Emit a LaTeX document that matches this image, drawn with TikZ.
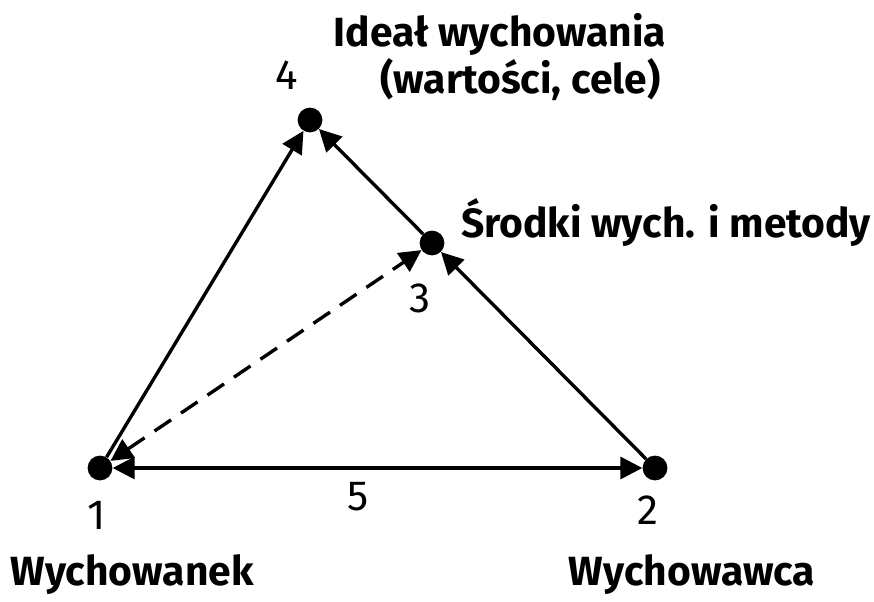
\documentclass[tikz,border=0pt]{standalone}
\usepackage{fontspec}
\setmainfont{Fira Sans}
\usetikzlibrary{arrows.meta}
\tikzset{
  punkt/.style={circle,fill,inner sep=0pt,minimum size=0.62cm},
  pfeil/.style={line width=2.4pt,-{Triangle[length=0.55cm,width=0.55cm]}},
  ziffer/.style={font=\fontsize{30}{34}\selectfont},
  etykieta/.style={font=\fontsize{29}{34}\selectfont\bfseries,align=center}
}
\begin{document}
\begin{tikzpicture}
  \useasboundingbox (0,0) rectangle (21.85,15.025);
  % Vier Punkte des Dreiecks
  \node[punkt] (P1) at (2.5,3.325)   {};
  \node[punkt] (P2) at (16.375,3.325) {};
  \node[punkt] (P3) at (10.8,8.95)   {};
  \node[punkt] (P4) at (7.75,12.025) {};

  % Nummern
  \node[ziffer] (n1) at (2.425,2.15)  {1};
  \node[ziffer] (n2) at (16.2,2.275)  {2};
  \node[ziffer] (n3) at (10.5,7.575)  {3};
  \node[ziffer] (n4) at (7.175,13.15) {4};
  \node[ziffer] (n5) at (8.95,2.6)    {5};

  % Beschriftungen
  \node[etykieta] (wychowanek) at (3.3,0.65)  {Wychowanek};
  \node[etykieta] (wychowawca) at (17.3,0.65) {Wychowawca};
  \node[etykieta] (ideal) at (12.5,13.6)
    {Ideał wychowania\\ \quad(wartości, cele)};
  \node[etykieta] (srodki) at (16.65,9.45) {Środki wych. i metody};

  % Pfeile
  \draw[pfeil] (P1) -- (P4);
  \draw[pfeil] (P3) -- (P4);
  \draw[pfeil] (P2) -- (P3);
  \draw[pfeil,{Triangle[length=0.55cm,width=0.55cm]}-{Triangle[length=0.55cm,width=0.55cm]}] (P1) -- (P2);
  \draw[pfeil,{Triangle[length=0.55cm,width=0.55cm]}-{Triangle[length=0.55cm,width=0.55cm]},dash pattern=on 0.5cm off 0.3cm] (P1) -- (P3);
\end{tikzpicture}
\end{document}
